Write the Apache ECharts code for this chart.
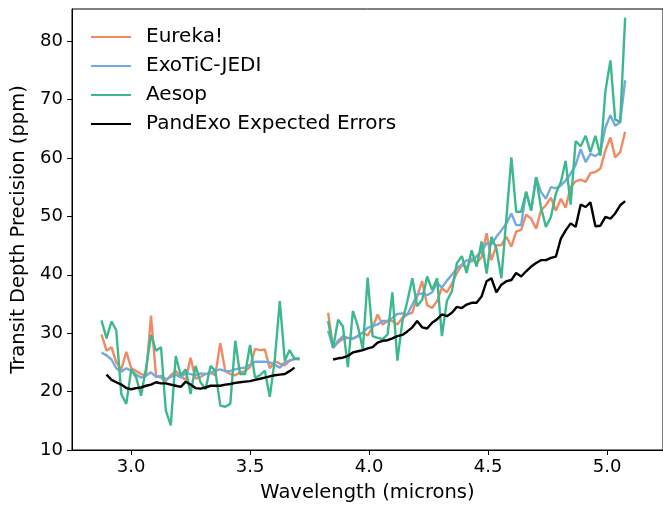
<!DOCTYPE html>
<html><head><meta charset="utf-8">
<script src="https://cdn.jsdelivr.net/npm/echarts@6/dist/echarts.min.js"></script>
<style>html,body{margin:0;padding:0;background:#fff}#c{width:663px;height:508px}</style>
</head><body><div id="c"></div>
<script>
// Wavelengths (microns) for the two detector segments
const wavelengthsNRS1 = [2.876,2.897,2.918,2.938,2.959,2.980,3.001,3.022,3.042,3.063,3.084,3.105,3.126,3.146,3.167,3.188,3.209,3.230,3.250,3.271,3.292,3.313,3.334,3.354,3.375,3.396,3.417,3.438,3.458,3.479,3.500,3.521,3.542,3.562,3.583,3.604,3.625,3.646,3.666,3.687,3.708];
const wavelengthsNRS2 = [3.828,3.849,3.870,3.890,3.911,3.932,3.953,3.974,3.994,4.015,4.036,4.057,4.078,4.098,4.119,4.140,4.161,4.182,4.202,4.223,4.244,4.265,4.286,4.306,4.327,4.348,4.369,4.390,4.410,4.431,4.452,4.473,4.494,4.514,4.535,4.556,4.577,4.598,4.618,4.639,4.660,4.681,4.702,4.722,4.743,4.764,4.785,4.806,4.826,4.847,4.868,4.889,4.910,4.930,4.951,4.972,4.993,5.014,5.034,5.055,5.076];

const eurekaNRS1 = [29.8,27.0,27.6,25.0,23.8,26.8,24.0,23.5,23.0,22.8,33.0,22.7,22.4,21.8,22.8,23.5,22.6,22.0,25.8,22.2,22.5,23.0,23.2,22.8,28.3,23.5,23.0,22.8,23.3,23.5,24.2,27.3,27.1,27.2,24.0,25.2,24.8,24.5,25.3,25.6,25.5];
const jediNRS1 = [26.7,26.2,25.5,24.0,23.4,24.0,23.6,22.9,22.4,22.7,23.3,22.5,22.7,22.1,22.5,22.9,22.4,23.2,23.0,22.8,23.1,23.0,23.2,23.6,23.8,23.5,23.5,23.8,24.0,24.1,24.6,25.1,25.1,25.1,25.0,24.6,24.1,25.0,25.3,25.6,25.6];
const aesopNRS1 = [32.2,29.1,32.0,30.5,19.6,17.9,23.8,22.4,19.3,24.0,29.7,27.0,27.6,16.8,14.2,26.1,22.8,23.8,19.6,24.4,21.6,20.4,24.4,23.6,17.6,17.4,17.9,28.7,23.0,23.0,28.0,22.4,22.8,23.6,19.1,25.5,35.5,25.3,27.1,25.6,25.7];
const pandexoNRS1 = [null,22.9,22.0,21.6,21.2,20.6,20.4,20.6,20.7,21.0,21.2,21.6,21.4,21.4,21.2,21.0,20.8,21.7,21.2,20.6,20.5,20.7,21.0,21.0,21.0,21.2,21.3,21.5,21.6,21.7,21.8,22.0,22.2,22.4,22.6,22.8,22.9,23.0,23.5,24.1,null];

const eurekaNRS2 = [33.5,27.5,28.4,29.0,29.2,29.0,29.5,30.1,29.6,31.0,33.2,31.5,32.1,32.1,31.5,32.6,33.2,33.5,36.3,38.9,34.8,34.3,35.5,37.7,37.0,38.5,40.3,41.7,41.2,42.8,42.0,43.0,47.1,42.5,45.0,45.1,46.5,44.8,47.4,47.7,50.3,49.6,47.9,51.0,51.9,53.2,51.0,53.0,51.5,55.0,56.0,56.3,55.9,57.4,57.6,58.2,61.3,63.5,60.1,61.0,64.5];
const jediNRS2 = [30.4,27.5,28.7,29.5,29.2,29.1,29.5,30.1,30.9,31.2,31.5,32.1,32.1,32.6,33.3,33.4,33.2,34.9,36.6,36.8,36.5,37.0,38.6,37.8,39.0,40.0,41.1,41.7,42.5,42.3,43.2,44.0,45.4,45.2,46.5,47.6,48.8,50.5,48.5,48.5,54.2,51.0,56.7,54.2,53.0,55.0,54.8,55.3,56.1,57.3,58.8,61.5,59.3,60.7,60.3,61.0,65.2,67.3,65.5,66.1,73.3];
const aesopNRS2 = [32.1,27.5,32.3,31.2,24.2,33.8,31.2,27.2,39.5,29.5,29.2,29.0,29.8,37.0,25.3,32.0,35.5,39.4,34.6,35.7,39.7,37.4,39.4,29.5,35.5,37.2,42.0,43.2,40.3,44.2,41.4,45.7,40.2,46.5,44.5,39.4,49.7,60.1,50.8,50.8,54.2,51.0,56.7,51.6,48.2,49.9,53.9,55.9,59.5,52.0,62.9,62.0,63.8,61.0,63.8,60.4,71.4,76.7,66.6,66.1,84.0];
const pandexoNRS2 = [null,25.5,25.7,25.8,26.1,26.7,26.9,27.1,27.4,27.6,28.4,28.7,28.8,29.1,29.5,29.7,30.3,31.0,32.1,31.0,30.8,31.8,32.4,33.2,32.9,33.5,34.5,34.3,34.9,35.2,35.2,36.3,38.9,39.4,37.0,38.3,38.9,39.1,40.3,39.7,40.6,41.4,42.0,42.5,42.5,42.9,43.1,46.2,47.6,48.8,48.2,52.0,51.6,52.4,48.3,48.4,49.9,49.6,50.5,51.9,52.6];

const seriesNames = ['Eureka!','ExoTiC-JEDI','Aesop','PandExo Expected Errors'];
const xTicks = [3.0,3.5,4.0,4.5,5.0];
const yTicks = [10,20,30,40,50,60,70,80];

const colors = ['#F08A64','#74A9DF','#3DB88D','#000000'];

function build(left, right) {
  const d = [];
  wavelengthsNRS1.forEach((w, i) => d.push([w, left[i] == null ? '-' : left[i]]));
  d.push([(wavelengthsNRS1[wavelengthsNRS1.length-1] + wavelengthsNRS2[0]) / 2, '-']);
  wavelengthsNRS2.forEach((w, i) => d.push([w, right[i] == null ? '-' : right[i]]));
  return d;
}
const pairs = [[eurekaNRS1,eurekaNRS2],[jediNRS1,jediNRS2],[aesopNRS1,aesopNRS2],[pandexoNRS1,pandexoNRS2]];

const font = 'DejaVu Sans';
const chart = echarts.init(document.getElementById('c'), null, {renderer:'canvas'});
chart.setOption({
  animation: false,
  backgroundColor: '#fff',
  grid: {left: 72, top: 9, width: 591, height: 444, show: true, borderColor: '#000', borderWidth: 1, backgroundColor: 'transparent'},
  xAxis: {
    type: 'value', min: 2.752, max: 5.235,
    name: 'Wavelength (microns)', nameLocation: 'middle', nameGap: 33,
    nameTextStyle: {fontFamily: font, fontSize: 19.5, color: '#000'},
    axisLine: {show: true, lineStyle: {color: '#000', width: 1}},
    axisTick: {show: true, length: 5, inside: false, lineStyle: {color: '#000'}, customValues: xTicks},
    axisLabel: {fontFamily: font, fontSize: 18, color: '#000', margin: 8, customValues: xTicks, formatter: v => v.toFixed(1)},
    splitLine: {show: false}
  },
  yAxis: {
    type: 'value', min: 10, max: 85.5,
    name: 'Transit Depth Precision (ppm)', nameLocation: 'middle', nameGap: 42, nameRotate: 90,
    nameTextStyle: {fontFamily: font, fontSize: 19.5, color: '#000'},
    axisLine: {show: true, lineStyle: {color: '#000', width: 1}},
    axisTick: {show: true, length: 5, inside: false, lineStyle: {color: '#000'}, customValues: yTicks},
    axisLabel: {fontFamily: font, fontSize: 18, color: '#000', margin: 9, customValues: yTicks},
    splitLine: {show: false}
  },
  legend: {
    orient: 'vertical', left: 85, top: 22, itemWidth: 40, itemHeight: 14, itemGap: 9,
    data: seriesNames,
    itemStyle: {opacity: 0},
    textStyle: {fontFamily: font, fontSize: 20, color: '#000', padding: [0,0,0,10]}
  },
  series: seriesNames.map((n, k) => ({
    name: n, type: 'line', symbol: 'none', connectNulls: false,
    data: build(pairs[k][0], pairs[k][1]),
    lineStyle: {color: colors[k], width: 2.4}, itemStyle: {color: colors[k]},
    z: 2 + k
  }))
});
</script></body></html>
